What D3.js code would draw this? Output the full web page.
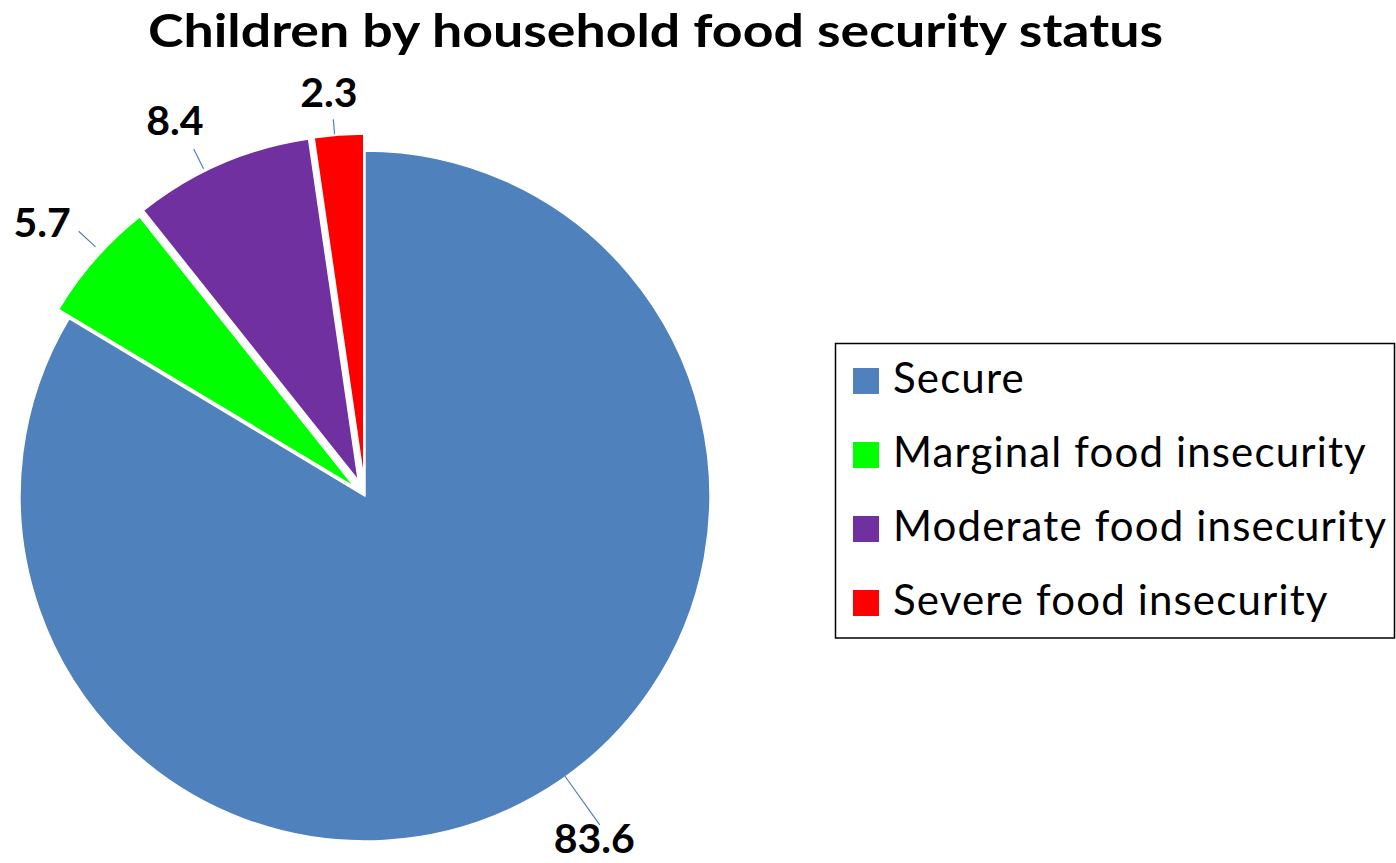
<!DOCTYPE html>
<html><head><meta charset="utf-8">
<script src="https://cdn.jsdelivr.net/npm/d3@7"></script>
<style>body{margin:0;background:#fff;}svg{display:block;}</style>
</head><body>
<svg id="chart" width="1396" height="863"></svg>
<script>
const categories = ["Secure", "Marginal food insecurity", "Moderate food insecurity", "Severe food insecurity"];
const values = [83.6, 5.7, 8.4, 2.3];
const colors = ["#4F81BD", "#00FF00", "#7030A0", "#FF0000"];
const title = "Children by household food security status";

// layout (not data)
const cx = 365, cy = 496, R = 345;
const explode = [0, 14, 17, 17];
// label/leader placement relative to slice bisector (degrees) and radii
const labelLayout = [
  {dl: -4.3, lr: 412, dline: -6.0, r0: 344, r1: 404},
  {dl: -1.0, lr: 409, dline: 1.6, r0: 353, r1: 376},
  {dl: -3.6, lr: 404, dline: -3.0, r0: 348, r1: 370},
  {dl: -1.0, lr: 388, dline: -0.7, r0: 346, r1: 361}
];

const svg = d3.select("#chart");
const FONT = "Lato, 'Open Sans', sans-serif";

svg.append("text").attr("x", 655.5).attr("y", 47).attr("text-anchor", "middle")
  .attr("font-family", FONT).attr("font-weight", 700).attr("font-size", 45)
  .attr("textLength", 1015).attr("lengthAdjust", "spacingAndGlyphs")
  .attr("fill", "#000").text(title);

const pie = d3.pie().sort(null).value(d => d)(values);
const arc = d3.arc().innerRadius(0).outerRadius(R);

const g = svg.append("g");
const toRad = Math.PI / 180;
pie.forEach((p, i) => {
  const mid = (p.startAngle + p.endAngle) / 2;
  const ox = explode[i] * Math.sin(mid), oy = -explode[i] * Math.cos(mid);
  const sx = cx + ox, sy = cy + oy;
  g.append("path").attr("d", arc(p)).attr("transform", `translate(${sx},${sy})`)
    .attr("fill", colors[i]).attr("stroke", "#fff").attr("stroke-width", 1.5).attr("stroke-linejoin", "round");
  const L = labelLayout[i];
  const la = mid + L.dl * toRad, lnA = mid + L.dline * toRad;
  g.append("line")
    .attr("x1", sx + L.r0 * Math.sin(lnA)).attr("y1", sy - L.r0 * Math.cos(lnA))
    .attr("x2", sx + L.r1 * Math.sin(lnA)).attr("y2", sy - L.r1 * Math.cos(lnA))
    .attr("stroke", "#4F81BD").attr("stroke-width", 1.2);
  g.append("text")
    .attr("x", sx + L.lr * Math.sin(la)).attr("y", sy - L.lr * Math.cos(la) + 14.5)
    .attr("text-anchor", "middle").attr("font-family", FONT).attr("font-weight", 700)
    .attr("font-size", 41).attr("fill", "#000").text(d3.format(".1f")(values[i]));
});

// legend
const lg = svg.append("g");
lg.append("rect").attr("x", 835.5).attr("y", 343.5).attr("width", 559).attr("height", 294.5)
  .attr("fill", "#fff").attr("stroke", "#000").attr("stroke-width", 1.5);
const ly = d3.scalePoint().domain(categories).range([381, 603]);
categories.forEach((c, i) => {
  lg.append("rect").attr("x", 853).attr("y", ly(c) - 13).attr("width", 26).attr("height", 26).attr("fill", colors[i]);
  lg.append("text").attr("x", 893).attr("y", ly(c) + 12).attr("font-family", FONT)
    .attr("font-size", 42).attr("letter-spacing", 1.15).attr("fill", "#000").text(c);
});
</script>
</body></html>
